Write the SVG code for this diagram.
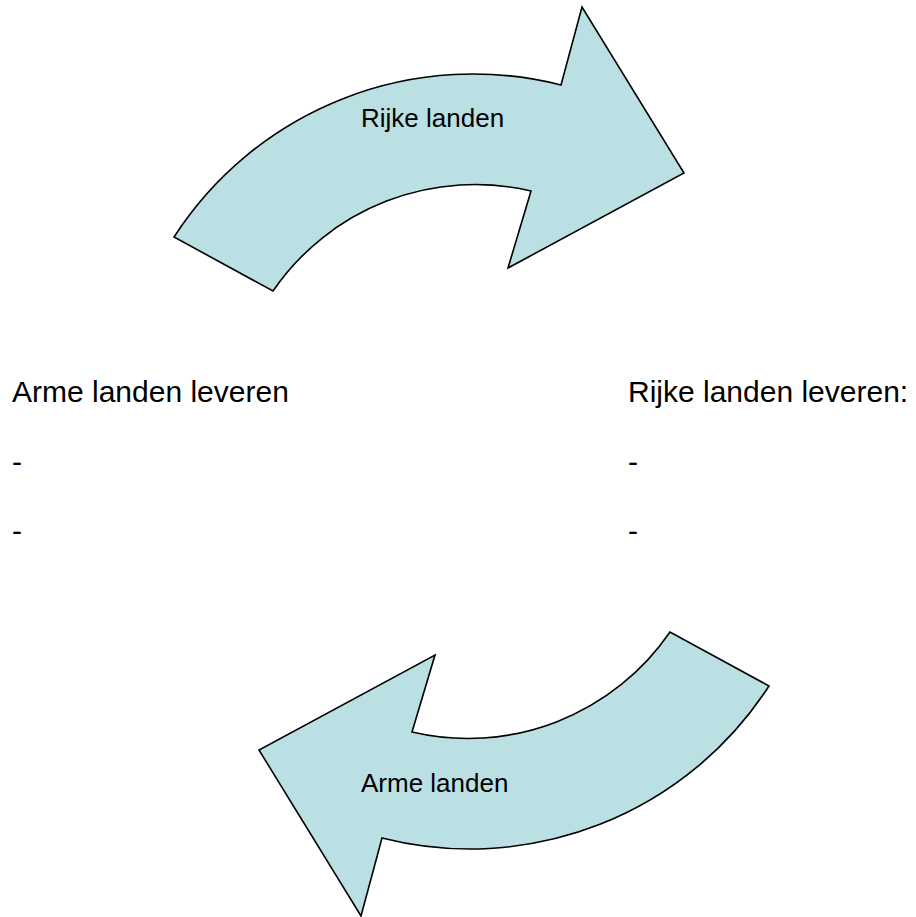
<svg xmlns="http://www.w3.org/2000/svg" width="916" height="917" viewBox="0 0 916 917">
  <defs>
    <style>
      .arrow { fill: #bbe0e3; stroke: #000000; stroke-width: 1.6; stroke-linejoin: miter; }
      .lbl { font-family: "Liberation Sans", Arial, sans-serif; font-size: 26px; fill: #000000; }
      .txt { font-family: "Liberation Sans", Arial, sans-serif; font-size: 30px; fill: #000000; }
    </style>
    <path id="curvedArrow" d="M 174,237 A 356 356 0 0 1 561,85 L 582,7 L 684,173 L 508,268 L 531,191 A 245 245 0 0 0 273,291 Z"/>
  </defs>
  <rect x="0" y="0" width="916" height="917" fill="#ffffff"/>
  <g id="connectors">
    <g id="arrow-rijke">
      <use href="#curvedArrow" class="arrow"/>
      <text class="lbl" x="361" y="127">Rijke landen</text>
    </g>
    <g id="arrow-arme">
      <use href="#curvedArrow" class="arrow" transform="rotate(180 471.5 461.5)"/>
      <text class="lbl" x="361" y="792">Arme landen</text>
    </g>
  </g>
  <g id="node-arme">
    <text class="txt" x="12" y="402">Arme landen leveren</text>
    <text class="txt" x="12" y="472">-</text>
    <text class="txt" x="12" y="541">-</text>
  </g>
  <g id="node-rijke">
    <text class="txt" x="628" y="402">Rijke landen leveren:</text>
    <text class="txt" x="628" y="472">-</text>
    <text class="txt" x="628" y="541">-</text>
  </g>
</svg>
